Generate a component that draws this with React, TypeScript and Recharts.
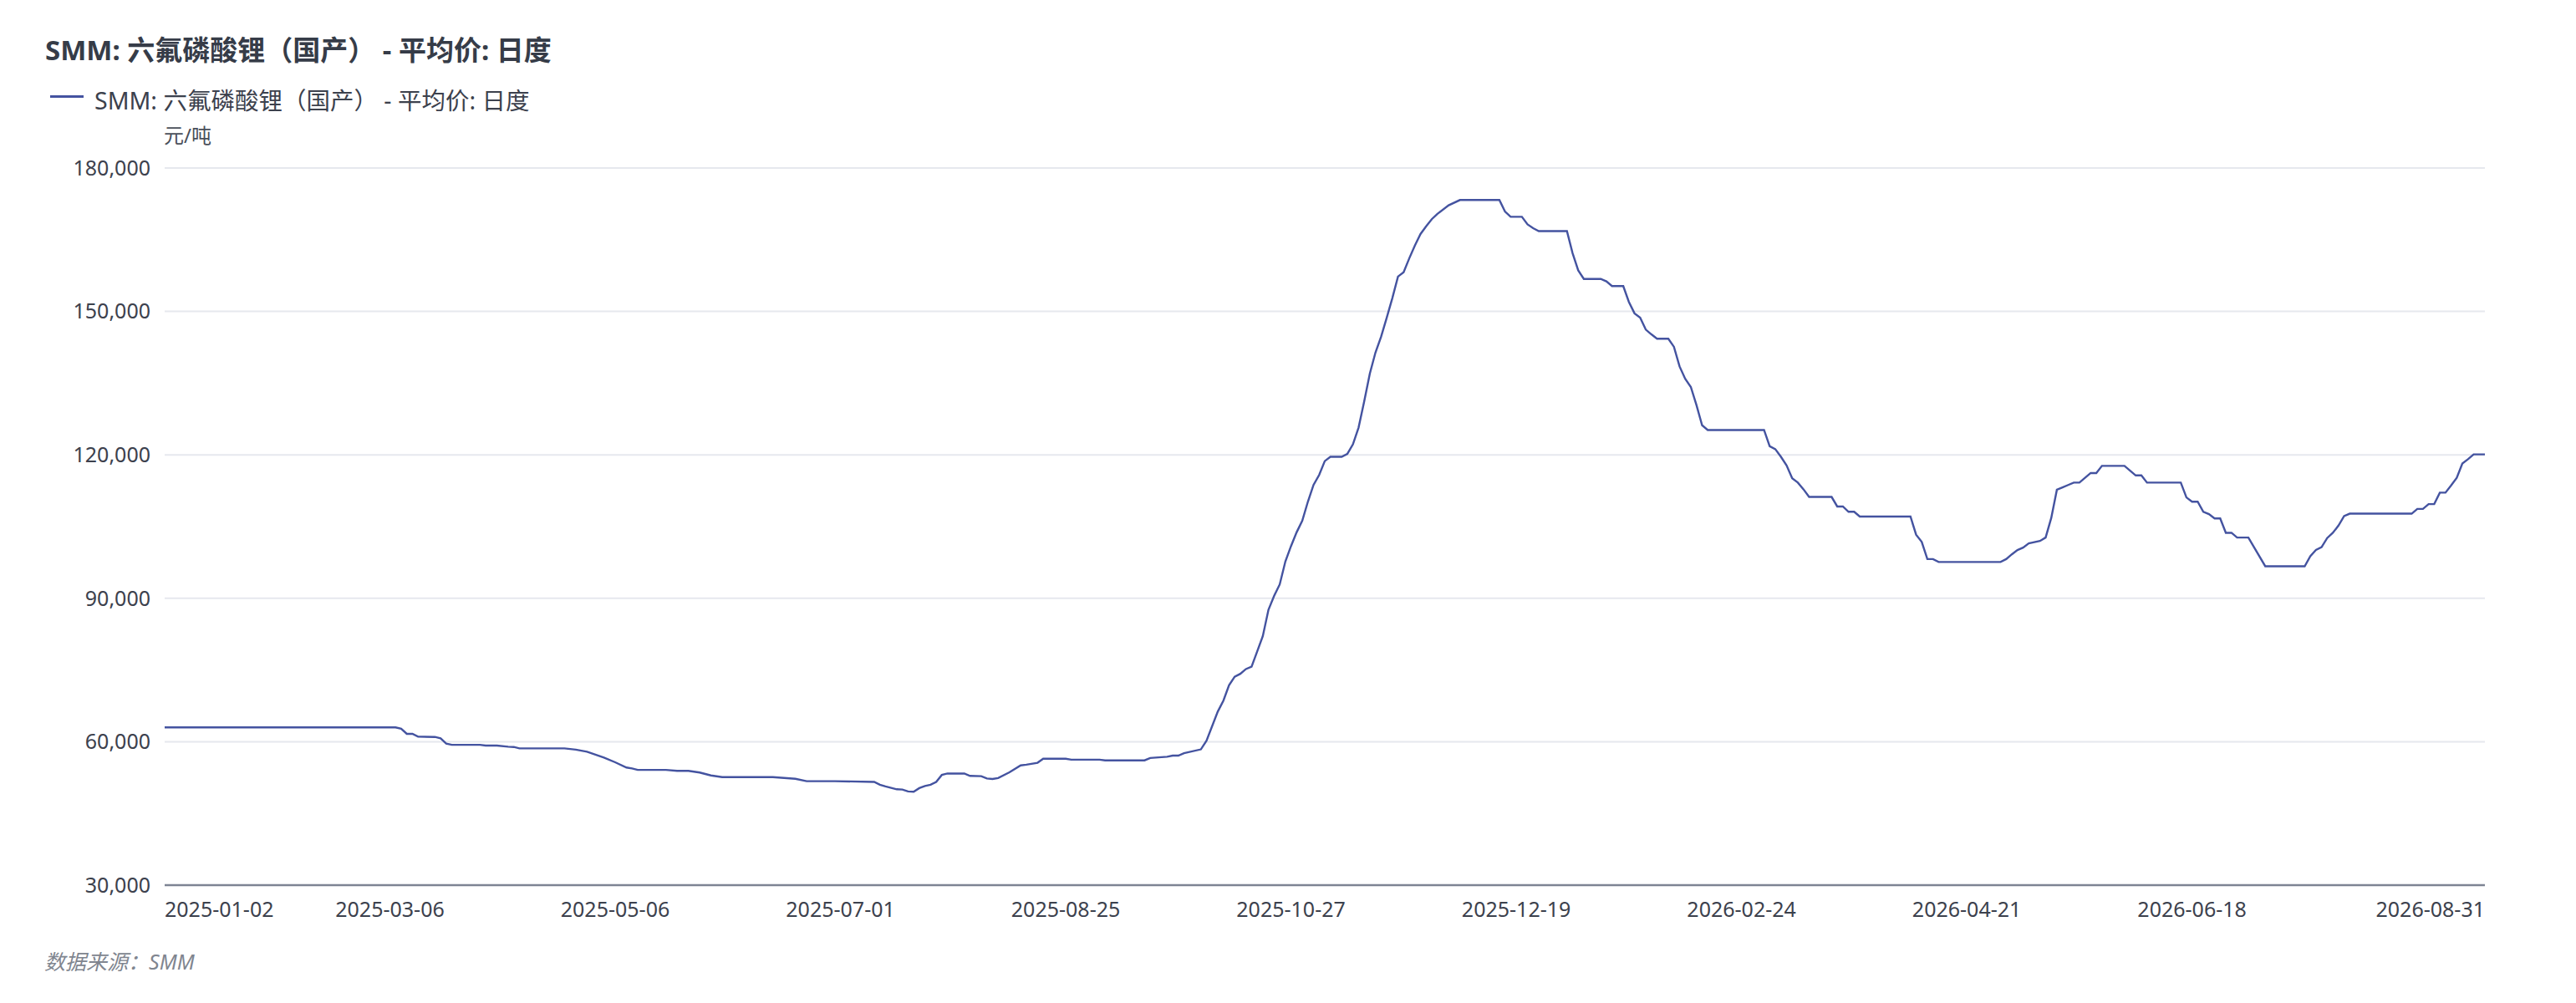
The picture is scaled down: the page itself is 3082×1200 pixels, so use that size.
import React from "react";
import { LineChart, Line, XAxis, YAxis, CartesianGrid } from "recharts";

// trading-day index (0 = 2025-01-02) → SMM average price, 元/吨
const springSlide: [number, number][] = [
  [0, 63000], [41, 63000], [42, 62700], [43, 61650], [44, 61650], [45, 61050], [48, 61000],
  [49, 60700], [50, 59600], [51, 59350], [56, 59350], [57, 59200], [59, 59200], [61, 58950],
  [62, 58900], [63, 58600], [71, 58600], [73, 58350], [75, 57900], [78, 56700], [80, 55700],
  [82, 54600], [83, 54400], [84, 54100], [89, 54100], [91, 53900], [93, 53900], [95, 53550],
  [97, 52950], [99, 52600], [108, 52600], [112, 52250], [114, 51750], [119, 51750], [126, 51600],
];

const summerBase: [number, number][] = [
  [127, 51000], [128, 50650], [130, 50050], [131, 50000], [132, 49600], [133, 49550], [134, 50300],
  [135, 50750], [136, 51000], [137, 51600], [138, 53050], [139, 53350], [142, 53350], [143, 52850],
  [145, 52800], [146, 52300], [147, 52200], [148, 52400], [150, 53600], [152, 55050], [153, 55200],
  [155, 55600], [156, 56450], [160, 56450], [161, 56250], [166, 56250], [167, 56100], [174, 56100],
  [175, 56600], [178, 56850], [179, 57100], [180, 57100], [181, 57600], [184, 58400],
];

const autumnRally: [number, number][] = [
  [185, 60200], [187, 66300], [188, 68600], [189, 71800], [190, 73600], [191, 74200], [192, 75200],
  [193, 75700], [194, 78900], [195, 82100], [196, 87600], [197, 90500], [198, 92900], [199, 97700],
  [200, 100900], [201, 103800], [202, 106200], [203, 110200], [204, 113700], [205, 115800],
  [206, 118700], [207, 119600], [209, 119600], [210, 120200], [211, 122200], [212, 125700],
  [213, 131200], [214, 137000], [215, 141400], [216, 144700], [217, 148700], [218, 152800],
  [219, 157300], [220, 158200], [221, 161100], [222, 163800], [223, 166200], [224, 167800],
  [225, 169300], [226, 170400], [228, 172200], [230, 173300], [237, 173300],
];

const winterRetreat: [number, number][] = [
  [238, 170900], [239, 169800], [241, 169800], [242, 168200], [243, 167400], [244, 166800],
  [249, 166800], [250, 162200], [251, 158600], [252, 156800], [255, 156800], [256, 156300],
  [257, 155300], [259, 155300], [260, 152000], [261, 149600], [262, 148700], [263, 146200],
  [264, 145200], [265, 144300], [267, 144300], [268, 142600], [269, 138500], [270, 135900],
  [271, 134200], [272, 130400], [273, 126200], [274, 125200], [284, 125200], [285, 121800],
  [286, 121200], [287, 119600], [288, 117800], [289, 115100], [290, 114200], [291, 112800],
  [292, 111200], [296, 111200], [297, 109200], [298, 109200], [299, 108100], [300, 108100],
  [301, 107100], [310, 107100], [311, 103300], [312, 101800], [313, 98200], [314, 98200],
  [315, 97600], [326, 97600],
];

const rebound2026: [number, number][] = [
  [327, 98200], [328, 99200], [329, 100100], [330, 100600], [331, 101500], [333, 102000],
  [334, 102700], [335, 106800], [336, 112700], [337, 113200], [338, 113700], [339, 114200],
  [340, 114200], [341, 115200], [342, 116200], [343, 116200], [344, 117700], [348, 117700],
  [349, 116700], [350, 115700], [351, 115700], [352, 114200], [358, 114200], [359, 111100],
  [360, 110200], [361, 110200], [362, 108100], [363, 107600], [364, 106700], [365, 106700],
  [366, 103700], [367, 103700], [368, 102700], [370, 102700], [373, 96700], [380, 96700],
  [381, 98800], [382, 100100], [383, 100700], [384, 102600], [385, 103700], [386, 105200],
  [387, 107200], [388, 107700], [399, 107700], [400, 108700], [401, 108700], [402, 109700],
  [403, 109700], [404, 112100], [405, 112100], [406, 113600], [407, 115200], [408, 118200],
  [409, 119100], [410, 120100], [412, 120100],
];

const tickIndex = [0, 40, 80, 120, 160, 200, 240, 280, 320, 360, 412];
const tickLabels = [
  "2025-01-02", "2025-03-06", "2025-05-06", "2025-07-01", "2025-08-25", "2025-10-27",
  "2025-12-19", "2026-02-24", "2026-04-21", "2026-06-18", "2026-08-31",
];
const yTicks = [30000, 60000, 90000, 120000, 150000, 180000];

const seriesName = "SMM: 六氟磷酸锂（国产） - 平均价: 日度";
const LINE = "#4453a0";
const TEXT = "#3c414d";
const FONT = '"Noto Sans", "Noto Sans CJK SC", sans-serif';

const data = [...springSlide, ...summerBase, ...autumnRally, ...winterRetreat, ...rebound2026].map(
  ([i, v]) => ({ i, v })
);
const lastIndex = tickIndex[tickIndex.length - 1];

function DateTick({ x, y, payload }: any) {
  const k = tickIndex.indexOf(payload.value);
  const anchor = payload.value === 0 ? "start" : payload.value === lastIndex ? "end" : "middle";
  return (
    <text x={x} y={y} dy={38} textAnchor={anchor} fontSize={25} fill={TEXT}>
      {tickLabels[k]}
    </text>
  );
}

export default function App() {
  return (
    <div style={{ position: "relative", width: 3066, height: 1184, fontFamily: FONT, background: "#fff" }}>
      <div style={{ position: "absolute", left: 46, top: 34, fontSize: 33, lineHeight: "36px", fontWeight: 700, color: "#363c48", whiteSpace: "nowrap" }}>
        {seriesName}
      </div>
      <div style={{ position: "absolute", left: 52, top: 106, width: 40, height: 3, background: LINE }} />
      <div style={{ position: "absolute", left: 105, top: 96, fontSize: 28.5, lineHeight: "32px", color: TEXT, whiteSpace: "nowrap" }}>
        {seriesName}
      </div>
      <div style={{ position: "absolute", left: 188, top: 140, fontSize: 24, lineHeight: "28px", color: "#4a4f5a" }}>元/吨</div>

      <LineChart width={3066} height={1184} data={data} margin={{ top: 193, right: 101, bottom: 73, left: 0 }}>
        <CartesianGrid vertical={false} stroke="#e6e8ee" strokeWidth={2} />
        <XAxis
          dataKey="i"
          type="number"
          domain={[0, lastIndex]}
          ticks={tickIndex}
          interval={0}
          tick={<DateTick />}
          tickLine={false}
          tickSize={0}
          tickMargin={0}
          height={60}
          axisLine={{ stroke: "#7d8493", strokeWidth: 2.5 }}
        />
        <YAxis
          domain={[30000, 180000]}
          ticks={yTicks}
          interval={0}
          width={189}
          axisLine={false}
          tickLine={false}
          tickSize={0}
          tickMargin={17}
          tick={{ fontSize: 25, fill: TEXT }}
          tickFormatter={(v: number) => v.toLocaleString("en-US")}
        />
        <Line dataKey="v" type="linear" stroke={LINE} strokeWidth={2.4} dot={false} activeDot={false} isAnimationActive={false} />
      </LineChart>

      <div style={{ position: "absolute", left: 45, top: 1128, fontSize: 25, lineHeight: "28px", fontStyle: "italic", color: "#80858f" }}>
        数据来源：SMM
      </div>
    </div>
  );
}
